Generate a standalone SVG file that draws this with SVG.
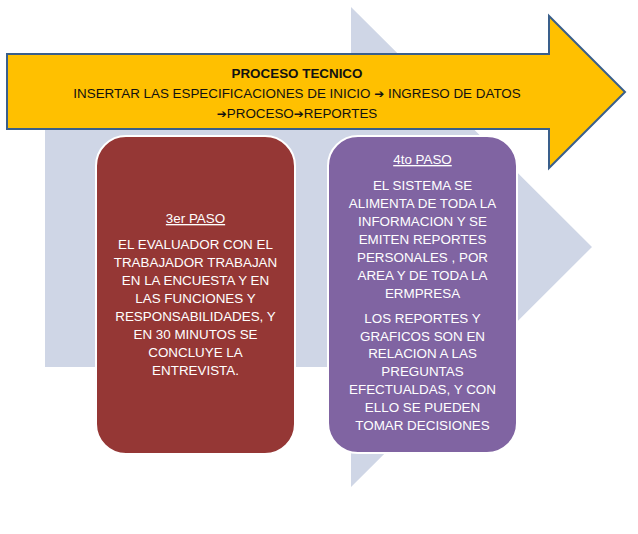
<svg xmlns="http://www.w3.org/2000/svg" width="638" height="534" viewBox="0 0 638 534">
<style>
.bg{fill:#CFD6E6}
.arrow{fill:#FFC000;stroke:#3A5F8B;stroke-width:2;stroke-linejoin:miter}
.box{stroke:#FFFFFF;stroke-width:2}
.t{font-family:"Liberation Sans",Arial,sans-serif;font-size:13.4px;text-anchor:middle}
.w{fill:#FFFFFF}
.k{fill:#111111}
.u{text-decoration:underline}
.ar{font-family:"DejaVu Sans",sans-serif;font-size:12px}
</style>
<rect width="638" height="534" fill="#FFFFFF"/>
<g id="background-arrow">
<path class="bg" d="M45,127 H351 V7 L592,247 L351,487 V367 H45 Z"/>
</g>
<g id="proceso-tecnico">
<path class="arrow" d="M7,54 H549 V16 L625,92 L549,168 V129 H7 Z"/>
<text class="t k" x="297" y="78" font-weight="bold">PROCESO TECNICO</text>
<text class="t k" x="297" y="98">INSERTAR LAS ESPECIFICACIONES  DE INICIO <tspan class="ar">➔</tspan> INGRESO DE DATOS</text>
<text class="t k" x="297" y="118"><tspan class="ar">➔</tspan>PROCESO<tspan class="ar">➔</tspan>REPORTES</text>
</g>
<g id="paso3">
<rect class="box" x="96" y="136" width="199" height="318" rx="30" ry="30" fill="#953735"/>
<text class="t w u" x="195.5" y="223">3er PASO</text>
<text class="t w" x="195.5" y="249">EL EVALUADOR CON EL</text>
<text class="t w" x="195.5" y="267">TRABAJADOR TRABAJAN</text>
<text class="t w" x="195.5" y="285">EN LA ENCUESTA Y EN</text>
<text class="t w" x="195.5" y="303">LAS FUNCIONES Y</text>
<text class="t w" x="195.5" y="321">RESPONSABILIDADES, Y</text>
<text class="t w" x="195.5" y="339">EN 30 MINUTOS SE</text>
<text class="t w" x="195.5" y="357">CONCLUYE LA</text>
<text class="t w" x="195.5" y="375">ENTREVISTA.</text>
</g>
<g id="paso4">
<rect class="box" x="328" y="136" width="189" height="317" rx="30" ry="30" fill="#8064A2"/>
<text class="t w u" x="422.5" y="164">4to PASO</text>
<text class="t w" x="422.5" y="190">EL SISTEMA SE</text>
<text class="t w" x="422.5" y="208">ALIMENTA DE TODA LA</text>
<text class="t w" x="422.5" y="226">INFORMACION Y SE</text>
<text class="t w" x="422.5" y="244">EMITEN REPORTES</text>
<text class="t w" x="422.5" y="262">PERSONALES , POR</text>
<text class="t w" x="422.5" y="280">AREA Y DE TODA LA</text>
<text class="t w" x="422.5" y="298">ERMPRESA</text>
<text class="t w" x="422.5" y="323">LOS REPORTES  Y</text>
<text class="t w" x="422.5" y="341">GRAFICOS SON EN</text>
<text class="t w" x="422.5" y="358">RELACION A LAS</text>
<text class="t w" x="422.5" y="376">PREGUNTAS</text>
<text class="t w" x="422.5" y="394">EFECTUALDAS, Y CON</text>
<text class="t w" x="422.5" y="412">ELLO SE PUEDEN</text>
<text class="t w" x="422.5" y="430">TOMAR DECISIONES</text>
</g>
<g id="connectors"/>
</svg>
